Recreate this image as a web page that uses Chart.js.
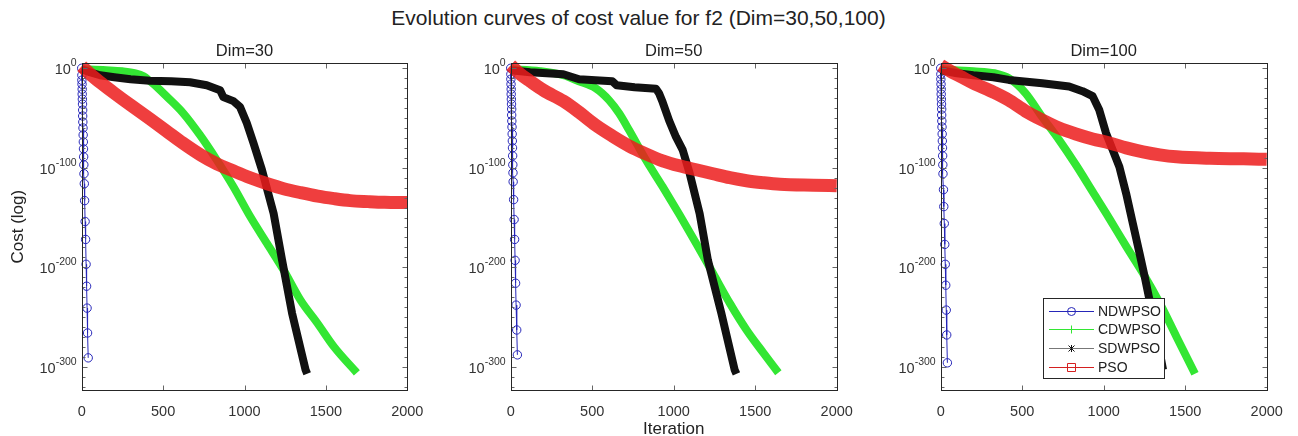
<!DOCTYPE html>
<html lang="en">
<head>
<meta charset="UTF-8">
<title>Evolution curves of cost value for f2</title>
<script src="https://cdn.jsdelivr.net/npm/chart.js"></script>
<style>
    body {
        margin: 0;
        width: 1298px;
        height: 436px;
        overflow: hidden;
        position: relative;
        background: #fff;
        font-family: "Liberation Sans", Arial, sans-serif;
    }
    #mainTitle {
        position: absolute;
        left: 0;
        width: 1277px;
        top: 6px;
        line-height: 24px;
        text-align: center;
        font-size: 21px;
        color: #222;
    }
    canvas {
        position: absolute;
        top: 40px;
    }
</style>
</head>
<body>
<div id="mainTitle">Evolution curves of cost value for f2 (Dim=30,50,100)</div>
<canvas id="dim30" width="430" height="400" style="left:0px"></canvas>
<canvas id="dim50" width="430" height="400" style="left:430px"></canvas>
<canvas id="dim100" width="438" height="400" style="left:860px"></canvas>

<script>
    // axis ticks
    const iterTicks = [0, 500, 1000, 1500, 2000];
    const costTickExps = [-300, -200, -100, 0];
    const seriesNames = ['NDWPSO', 'CDWPSO', 'SDWPSO', 'PSO'];

    // cost values are stored as powers of ten (cost = 10^exp)

    // Dim=30
    const nd30It  = [0, 1, 1, 2, 3, 3, 4, 5, 6, 6, 7, 8, 9, 10, 11, 12, 13, 14, 16, 18, 21, 24, 27, 30, 33, 36, 40];
    const nd30Exp = [0, -7, -12, -16, -21, -26, -31, -36, -42, -48, -54, -60, -67, -74, -81, -89, -97, -106, -116, -133, -154, -172, -197, -219, -241, -266, -291];
    const cd30It  = [0, 150, 250, 330, 380, 420, 470, 520, 623, 726, 829, 932, 1035, 1138, 1241, 1344, 1447, 1550, 1690];
    const cd30Exp = [-1, -2, -3, -5, -8, -13, -20, -28, -45, -67, -92, -119, -149, -176, -203, -233, -256, -280, -306];
    const sd30It  = [0, 50, 113, 200, 300, 418, 550, 665, 768, 850, 870, 932, 973, 1014, 1055, 1107, 1179, 1231, 1292, 1375, 1385];
    const sd30Exp = [-1, -4, -7, -9, -11, -12.5, -13, -14, -17, -22, -29, -33, -39, -55, -75, -102, -146, -193, -246, -303, -307];
    const ps30It  = [0, 60, 120, 200, 300, 420, 520, 620, 730, 830, 930, 1035, 1140, 1240, 1345, 1450, 1550, 1650, 1760, 1860, 2000];
    const ps30Exp = [2, -7, -15, -25, -37, -51, -63, -75, -87, -96, -103, -110, -116, -121, -125, -128.5, -131, -133, -134, -134.7, -135];

    // Dim=50
    const nd50It  = [0, 1, 1, 2, 3, 3, 4, 5, 6, 6, 7, 8, 9, 10, 11, 12, 13, 14, 15, 18, 21, 24, 27, 30, 33, 37, 41];
    const nd50Exp = [0, -6, -11, -16, -21, -26, -31, -36, -41, -47, -53, -59, -66, -73, -80, -88, -97, -105, -114, -132, -152, -172, -193, -216, -238, -263, -288];
    const cd50It  = [0, 180, 323, 418, 520, 603, 664, 726, 829, 932, 1035, 1138, 1241, 1344, 1447, 1550, 1642];
    const cd50Exp = [-1, -3, -7, -13, -20, -32, -45, -62, -92, -119, -147, -176, -206, -236, -263, -286, -306];
    const sd50It  = [0, 119, 323, 420, 520, 623, 650, 760, 891, 910, 932, 973, 1014, 1055, 1097, 1159, 1210, 1292, 1374, 1385];
    const sd50Exp = [-2, -4, -6, -11, -12, -13, -17, -19, -20.5, -25, -34, -53, -69, -82, -105, -146, -193, -246, -303, -307];
    const ps50It  = [0, 60, 119, 200, 323, 418, 520, 623, 726, 829, 932, 1035, 1138, 1241, 1344, 1447, 1550, 1652, 1858, 2000];
    const ps50Exp = [3, -6, -13, -22, -33, -44, -57, -68, -78, -86, -93, -98, -102, -106, -110, -113, -115, -116.5, -117.5, -118];

    // Dim=100
    const nd100It  = [0, 1, 1, 2, 3, 3, 4, 5, 6, 6, 7, 8, 9, 10, 11, 12, 13, 14, 17, 19, 22, 25, 28, 31, 34, 37, 41];
    const nd100Exp = [0, -6, -11, -16, -21, -26, -31, -36, -41, -47, -53, -59, -66, -73, -80, -88, -97, -106, -122, -139, -156, -177, -197, -218, -243, -268, -296];
    const cd100It  = [0, 200, 330, 418, 520, 623, 726, 829, 932, 1035, 1138, 1241, 1344, 1447, 1560];
    const cd100Exp = [-1, -3, -5, -10, -25, -49, -72, -97, -124, -151, -179, -206, -236, -270, -307];
    const sd100It  = [0, 100, 200, 323, 418, 623, 788, 870, 932, 973, 1014, 1055, 1096, 1138, 1179, 1220, 1251, 1290, 1330, 1364];
    const sd100Exp = [-2, -5, -7, -9, -11.7, -15, -18.4, -23, -28, -42, -65, -82, -99, -126, -156, -186, -209, -240, -273, -303];
    const ps100It  = [0, 60, 119, 200, 323, 418, 520, 623, 726, 829, 932, 1035, 1138, 1241, 1344, 1447, 1652, 1858, 2000];
    const ps100Exp = [3, -3, -8, -15, -24, -32, -43, -52, -60, -66, -71, -75, -80, -84, -87, -89, -90.5, -91, -91.5];

    const colors = {
        NDWPSO: '#2626b8',
        CDWPSO: '#33e633',
        SDWPSO: '#111111',
        PSO: 'rgba(236, 28, 28, 0.85)'
    };

    const FONT = '"Liberation Sans", Arial, sans-serif';
    Chart.defaults.font.family = FONT;
    Chart.defaults.color = '#333';

    function pts(its, exps) {
        return its.map((it, i) => ({x: it, y: Math.pow(10, exps[i])}));
    }

    // box around the axes, inward tick marks, and 10^n labels with raised exponents
    const framePlugin = {
        id: 'frame',
        afterDraw(chart) {
            const {ctx, chartArea: a, scales: {x, y}} = chart;
            const L = Math.round(a.left) + 0.5, R = Math.round(a.right) + 0.5;
            const T = Math.round(a.top) + 0.5, B = Math.round(a.bottom) + 0.5;
            ctx.save();
            ctx.lineWidth = 1;
            ctx.strokeStyle = '#666';
            ctx.beginPath();
            iterTicks.forEach(v => {
                const px = Math.round(x.getPixelForValue(v)) + 0.5;
                ctx.moveTo(px, B); ctx.lineTo(px, B - 5);
                ctx.moveTo(px, T); ctx.lineTo(px, T + 5);
            });
            for (let e = 0; e >= -320; e -= 10) {
                const len = e % 100 === 0 ? 5 : 3;
                const py = Math.round(y.getPixelForValue(Math.pow(10, e))) + 0.5;
                ctx.moveTo(L, py); ctx.lineTo(L + len, py);
                ctx.moveTo(R, py); ctx.lineTo(R - len, py);
            }
            ctx.stroke();
            ctx.strokeStyle = '#262626';
            ctx.strokeRect(L, T, R - L, B - T);

            ctx.fillStyle = '#333';
            ctx.textBaseline = 'middle';
            costTickExps.forEach(e => {
                const py = y.getPixelForValue(Math.pow(10, e));
                const expText = String(e);
                ctx.font = '10.5px ' + FONT;
                const ew = ctx.measureText(expText).width;
                const xr = a.left - 5;
                ctx.textAlign = 'left';
                ctx.fillText(expText, xr - ew, py - 5);
                ctx.font = '14.5px ' + FONT;
                ctx.textAlign = 'right';
                ctx.fillText('10', xr - ew, py + 2);
            });
            ctx.restore();
        }
    };

    function drawMarker(ctx, name, cx, cy) {
        ctx.beginPath();
        if (name === 'NDWPSO') {
            ctx.arc(cx, cy, 4, 0, Math.PI * 2);
        } else if (name === 'CDWPSO') {
            ctx.moveTo(cx - 4, cy); ctx.lineTo(cx + 4, cy);
            ctx.moveTo(cx, cy - 4); ctx.lineTo(cx, cy + 4);
        } else if (name === 'SDWPSO') {
            ctx.moveTo(cx - 3, cy - 3); ctx.lineTo(cx + 3, cy + 3);
            ctx.moveTo(cx - 3, cy + 3); ctx.lineTo(cx + 3, cy - 3);
            ctx.moveTo(cx, cy - 3.5); ctx.lineTo(cx, cy + 3.5);
        } else {
            ctx.rect(cx - 4, cy - 4, 8, 8);
        }
        ctx.stroke();
    }

    const legendPlugin = {
        id: 'boxLegend',
        afterDraw(chart) {
            const {ctx, chartArea: a} = chart;
            const bx = Math.round(a.left + 102) + 0.5, by = Math.round(a.top + 234.4) + 0.5;
            const bw = 121, bh = 80;
            ctx.save();
            ctx.fillStyle = '#fff';
            ctx.fillRect(bx, by, bw, bh);
            ctx.strokeStyle = '#262626';
            ctx.lineWidth = 1;
            ctx.strokeRect(bx, by, bw, bh);
            ctx.font = '14px ' + FONT;
            ctx.textBaseline = 'middle';
            ctx.textAlign = 'left';
            seriesNames.forEach((name, i) => {
                const ry = Math.round(by + 12 + i * 18.9) + 0.5;
                const col = name === 'PSO' ? '#d42020' : colors[name];
                ctx.strokeStyle = name === 'SDWPSO' ? '#777' : col;
                ctx.beginPath();
                ctx.moveTo(bx + 5.5, ry); ctx.lineTo(bx + 50.5, ry);
                ctx.stroke();
                ctx.strokeStyle = col;
                drawMarker(ctx, name, bx + 28, ry);
                ctx.fillStyle = '#222';
                ctx.fillText(name, bx + 54.5, ry + 1);
            });
            ctx.restore();
        }
    };

    function makeChart(id, title, d, opts) {
        const datasets = [
            {
                label: 'NDWPSO', data: pts(d.ndIt, d.ndExp), order: 4,
                borderColor: colors.NDWPSO, borderWidth: 1,
                pointStyle: 'circle', pointRadius: 4.2, pointBorderWidth: 1,
                pointBorderColor: colors.NDWPSO, pointBackgroundColor: 'rgba(0,0,0,0)'
            },
            {
                label: 'CDWPSO', data: pts(d.cdIt, d.cdExp), order: 3,
                borderColor: colors.CDWPSO, borderWidth: 8, pointRadius: 0,
                cubicInterpolationMode: 'monotone'
            },
            {
                label: 'SDWPSO', data: pts(d.sdIt, d.sdExp), order: 2,
                borderColor: colors.SDWPSO, borderWidth: 8, pointRadius: 0
            },
            {
                label: 'PSO', data: pts(d.psIt, d.psExp), order: 1,
                borderColor: colors.PSO, borderWidth: 13, pointRadius: 0,
                cubicInterpolationMode: 'monotone'
            }
        ];
        datasets.forEach(ds => { ds.showLine = true; ds.clip = 8; ds.borderJoinStyle = 'round'; });

        const plugins = [framePlugin];
        if (opts.legend) plugins.push(legendPlugin);

        return new Chart(document.getElementById(id), {
            type: 'scatter',
            data: {datasets: datasets},
            plugins: plugins,
            options: {
                responsive: false,
                animation: false,
                devicePixelRatio: 1,
                layout: {padding: {left: 0, right: opts.padRight, top: 0, bottom: 0}},
                plugins: {
                    legend: {display: false},
                    tooltip: {enabled: false},
                    title: {
                        display: true, text: title, color: '#222', fullSize: false,
                        font: {size: 16.5, weight: 'normal'},
                        padding: {top: 2, bottom: 1.5}
                    }
                },
                scales: {
                    x: {
                        type: 'linear', min: 0, max: 2000,
                        afterBuildTicks: s => { s.ticks = iterTicks.map(v => ({value: v})); },
                        afterFit: s => { s.height = 50; },
                        grid: {display: false},
                        border: {display: false},
                        ticks: {padding: 5, color: '#333', font: {size: 14.5}, callback: v => String(v)},
                        title: {
                            display: !!opts.xTitle, text: opts.xTitle || '', color: '#222',
                            font: {size: 17}, padding: {top: 0, bottom: 0.5}
                        }
                    },
                    y: {
                        type: 'logarithmic', min: Number.MIN_VALUE, max: 1e5,
                        afterBuildTicks: s => { s.ticks = costTickExps.map(e => ({value: Math.pow(10, e)})); },
                        afterFit: s => { s.width = opts.axisWidth; },
                        grid: {display: false},
                        border: {display: false},
                        ticks: {display: false},
                        title: {
                            display: !!opts.yTitle, text: opts.yTitle || '', color: '#222',
                            font: {size: 17}, padding: {top: 8, bottom: 0}
                        }
                    }
                }
            }
        });
    }

    makeChart('dim30', 'Dim=30',
        {ndIt: nd30It, ndExp: nd30Exp, cdIt: cd30It, cdExp: cd30Exp, sdIt: sd30It, sdExp: sd30Exp, psIt: ps30It, psExp: ps30Exp},
        {axisWidth: 81.7, padRight: 22.7, yTitle: 'Cost (log)'});
    makeChart('dim50', 'Dim=50',
        {ndIt: nd50It, ndExp: nd50Exp, cdIt: cd50It, cdExp: cd50Exp, sdIt: sd50It, sdExp: sd50Exp, psIt: ps50It, psExp: ps50Exp},
        {axisWidth: 80.7, padRight: 23.3, xTitle: 'Iteration'});
    makeChart('dim100', 'Dim=100',
        {ndIt: nd100It, ndExp: nd100Exp, cdIt: cd100It, cdExp: cd100Exp, sdIt: sd100It, sdExp: sd100Exp, psIt: ps100It, psExp: ps100Exp},
        {axisWidth: 80.7, padRight: 31.3, legend: true});
</script>
</body>
</html>
